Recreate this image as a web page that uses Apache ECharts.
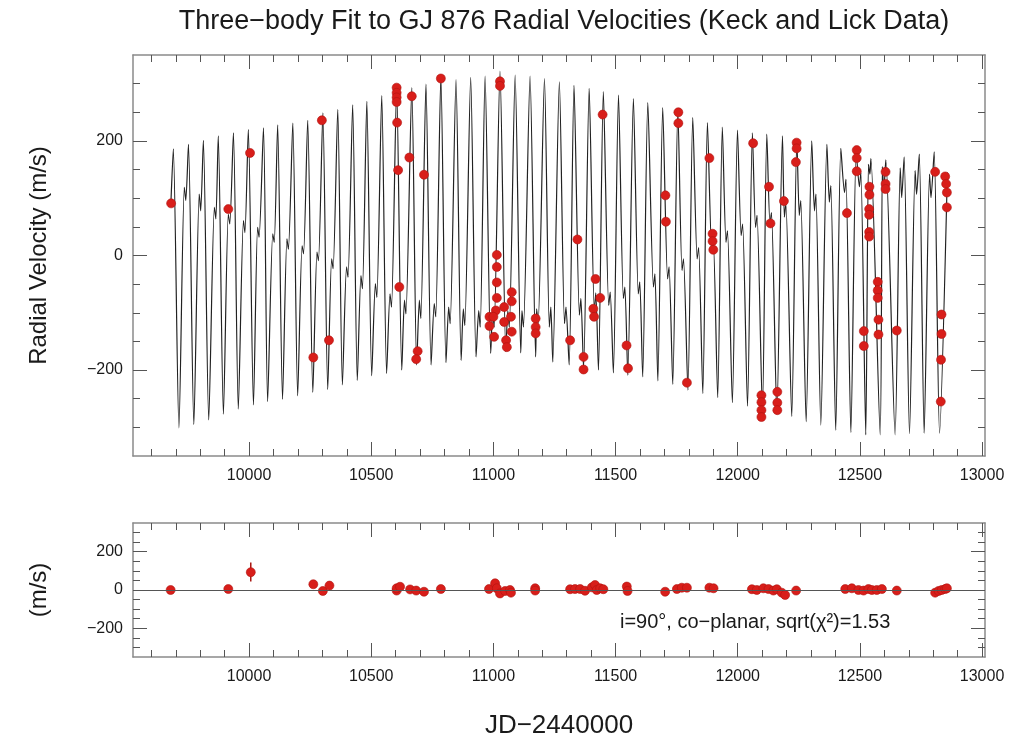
<!DOCTYPE html>
<html><head><meta charset="utf-8">
<script src="https://cdn.jsdelivr.net/npm/echarts@6/dist/echarts.min.js"></script>
<style>html,body{margin:0;padding:0;background:#fff}#c{width:1009px;height:742px}</style>
</head><body><div id="c"></div>
<script>
// ---- Model curve: peaks, troughs, small kinks ----
const curveStart = [9680, 90];
const curveEnd = [12858, 145];
const peaks = [
[9690,186],[9752,194],[9813,201],[9874,209],[9936,214],[9997,220],[10059,223],[10117,228],[10179,231],[10240,236],
[10302,249],[10363,255],[10424,263],[10482,269],[10543,279],[10604,293],[10666,293],[10724,299],[10785,313],[10847,307],
[10907,311],[10966,313],[11027,322],[11089,315],[11150,313],[11209,309],[11270,303],[11330,297],[11392,292],[11450,286],
[11512,280],[11573,274],[11632,267],[11693,258],[11755,253],[11816,241],[11876,232],[11937,224],[11999,219],[12060,214],
[12119,212],[12183,209],[12242,201],[12303,200],[12365,194],[12422,187],[12485,180],[12545,169],[12606,167],[12681,172],
[12743,177],[12804,181]];
const troughs = [
[9713,-301],[9774,-295],[9835,-287],[9895,-277],[9956,-268],[10018,-261],[10076,-255],[10137,-251],[10199,-245],[10261,-239],
[10322,-234],[10382,-226],[10443,-218],[10502,-210],[10563,-206],[10625,-200],[10686,-191],[10745,-191],[10806,-187],[10868,-183],
[10929,-177],[10989,-171],[11051,-168],[11112,-170],[11173,-177],[11243,-186],[11310,-191],[11369,-197],[11430,-200],[11491,-205],
[11550,-209],[11611,-212],[11673,-219],[11734,-225],[11796,-235],[11857,-241],[11918,-248],[11978,-257],[12040,-263],[12101,-270],
[12160,-277],[12221,-281],[12280,-290],[12340,-296],[12401,-305],[12463,-309],[12524,-313],[12583,-313],[12644,-313],[12703,-311],
[12763,-310],[12826,-310]];
// kinks on the rising branch: [time, local max, local min]
const kinksRising = [
[9738,119,96],[9799,107,78],[9861,84,64],[9918,72,55],[9980,61,40],[10038,49,32],[10100,38,23],[10158,29,11],[10220,17,3],
[10281,6,-9],[10341,-6,-23],[10402,-20,-38],[10461,-35,-58],[10520,-49,-73],[10580,-67,-90],[10639,-78,-102],[10700,-78,-110],
[10761,-84,-107],[10820,-90,-119],[10880,-93,-122],[10943,-96,-125],[11000,-96,-125],[11062,-96,-125],[11120,-96,-125],[11180,-93,-119],
[12538,159,142],[12595,155,115],[12668,153,101],[12729,148,107],[12788,142,101]];
// kinks on the falling branch: [time, local max, local min]
const kinksFalling = [
[11232,-90,-125],[11294,-90,-119],[11355,-75,-104],[11416,-65,-95],[11475,-64,-87],[11535,-55,-75],[11596,-46,-67],[11658,-32,-55],
[11716,-20,-41],[11775,-6,-26],[11837,14,-6],[11897,25,5],[11955,43,23],[12017,55,35],[12076,70,49],[12135,75,55],[12194,90,67],
[12255,96,70],[12317,107,78],[12378,122,93],[12440,133,110],[12501,145,120]];

// ---- Radial velocity measurements ----
const rvT = [9681,9915,10004,10298,10263,10327,10604,10604,10604,10604,10606,10610,10615,10666,10656,10716,10690,10684,10785,
11027,11027,11014,11014,11014,11014,11010,10984,11000,10984,11003,11044,11044,11075,11075,11072,11075,11052,11055,11173,11173,11173,
11344,11314,11369,11369,11418,11437,11409,11412,11447,11545,11551,11704,11706,11757,11757,11792,11884,11897,11897,11900,
12063,12128,12134,12189,12241,12241,12238,12097,12097,12097,12097,12162,12162,12162,12447,12487,12487,12487,12516,12516,
12539,12539,12538,12538,12538,12538,12573,12573,12573,12576,12576,12605,12605,12605,12651,12808,12849,12853,12856,12856,
12834,12834,12832,12831];
const rvV = [91,81,179,236,-178,-148,293,284,276,268,232,149,-55,278,171,141,-167,-181,309,
304,296,1,-20,-47,-74,-96,-107,-107,-123,-142,-90,-116,-64,-80,-107,-133,-148,-160,-110,-125,-136,
28,-148,-177,-199,-41,-74,-93,-107,246,-157,-197,105,59,250,231,-222,170,38,25,10,
196,120,56,95,197,187,163,-244,-256,-270,-282,-238,-257,-270,74,184,170,147,-132,-158,
120,106,81,71,41,33,-46,-61,-74,-112,-138,146,125,116,-131,146,138,125,110,84,
-103,-137,-182,-255];

// ---- Residuals ----
const resT = [9679,9915,10007,10263,10302,10329,10604,10604,10618,10659,10684,10716,10785,10982,11007,11014,11027,11048,11068,11072,
11171,11171,11314,11334,11355,11375,11403,11416,11423,11437,11450,11546,11549,11703,11751,11771,11792,11884,11901,
12058,12078,12105,12126,12146,12160,12180,12194,12239,12440,12467,12494,12515,12535,12549,12569,12590,12651,
12808,12822,12835,12849,12856];
const resV = [0,5,93,30,-5,23,-3,9,17,3,-3,-9,5,5,35,9,-18,-5,0,-14,
9,-3,4,5,5,-4,14,26,0,9,4,18,-5,-9,5,12,12,12,9,
4,0,9,5,-3,4,-14,-26,-3,5,9,0,-3,5,0,0,5,-3,
-14,-5,0,5,9];
const resErrT = [10007];
const resErrLo = [44];
const resErrHi = [144];

// ---- Axis tick values ----
const xMajor = [10000,10500,11000,11500,12000,12500,13000];
const yMajor = [-200,0,200];
const xMinor = []; for (let v = 9600; v <= 13000; v += 100) xMinor.push(v);
const yMinor = []; for (let v = -300; v <= 300; v += 50) yMinor.push(v);

// ---- Build model line ----
const modelPts = [curveStart, curveEnd].concat(peaks, troughs);
kinksRising.forEach(k => { modelPts.push([k[0]-3, k[1]]); modelPts.push([k[0]+3, k[2]]); });
kinksFalling.forEach(k => { modelPts.push([k[0]-3, k[2]]); modelPts.push([k[0]+3, k[1]]); });
modelPts.sort((a,b) => a[0]-b[0]);

const rvData = rvT.map((t,i) => [t, rvV[i]]);
const resData = resT.map((t,i) => [t, resV[i]]);
const errData = resErrT.map((t,i) => [t, resErrLo[i], resErrHi[i]]);

const FONT = '"Liberation Sans", Arial, Helvetica, sans-serif';
const FRAME = '#8a8a8a', TICK = '#555', TXT = '#1a1a1a';
const XMIN = 9525, XMAX = 13012, YMIN = -350, YMAX = 350;
const fmt = v => String(v).replace('-', '\u2212');

function xAxes(g, labels, name) {
  const base = {type:'value', gridIndex:g, min:XMIN, max:XMAX, splitLine:{show:false}};
  return [
    Object.assign({}, base, {position:'bottom',
      axisLine:{show:true, onZero:false, lineStyle:{color:FRAME, width:1.5}},
      axisTick:{show:true, inside:true, length:14, customValues:xMajor, lineStyle:{color:TICK, width:1}},
      axisLabel:{show:labels, customValues:xMajor, margin:12, fontSize:16, color:TXT, fontFamily:FONT, formatter:fmt},
      name: name || '', nameLocation:'middle', nameGap:56,
      nameTextStyle:{fontSize:26, color:TXT, fontFamily:FONT}}),
    Object.assign({}, base, {position:'bottom', axisLine:{show:false, onZero:false},
      axisTick:{show:true, inside:true, length:7, customValues:xMinor, lineStyle:{color:TICK, width:1}},
      axisLabel:{show:false}}),
    Object.assign({}, base, {position:'top',
      axisLine:{show:true, onZero:false, lineStyle:{color:FRAME, width:1.5}},
      axisTick:{show:true, inside:true, length:14, customValues:xMajor, lineStyle:{color:TICK, width:1}},
      axisLabel:{show:false}}),
    Object.assign({}, base, {position:'top', axisLine:{show:false, onZero:false},
      axisTick:{show:true, inside:true, length:7, customValues:xMinor, lineStyle:{color:TICK, width:1}},
      axisLabel:{show:false}})
  ];
}
function yAxes(g, name) {
  const base = {type:'value', gridIndex:g, min:YMIN, max:YMAX, splitLine:{show:false}};
  return [
    Object.assign({}, base, {position:'left',
      axisLine:{show:true, onZero:false, lineStyle:{color:FRAME, width:1.5}},
      axisTick:{show:true, inside:true, length:14, customValues:yMajor, lineStyle:{color:TICK, width:1}},
      axisLabel:{show:true, customValues:yMajor, margin:10, fontSize:16, color:TXT, fontFamily:FONT, formatter:fmt},
      name:name, nameLocation:'middle', nameRotate:90, nameGap:82,
      nameTextStyle:{fontSize:24, color:TXT, fontFamily:FONT}}),
    Object.assign({}, base, {position:'left', axisLine:{show:false, onZero:false},
      axisTick:{show:true, inside:true, length:7, customValues:yMinor, lineStyle:{color:TICK, width:1}},
      axisLabel:{show:false}}),
    Object.assign({}, base, {position:'right',
      axisLine:{show:true, onZero:false, lineStyle:{color:FRAME, width:1.5}},
      axisTick:{show:true, inside:true, length:14, customValues:yMajor, lineStyle:{color:TICK, width:1}},
      axisLabel:{show:false}}),
    Object.assign({}, base, {position:'right', axisLine:{show:false, onZero:false},
      axisTick:{show:true, inside:true, length:7, customValues:yMinor, lineStyle:{color:TICK, width:1}},
      axisLabel:{show:false}})
  ];
}

const chart = echarts.init(document.getElementById('c'), null, {renderer:'canvas'});
chart.setOption({
  animation:false,
  backgroundColor:'#ffffff',
  title:[
    {text:'Three\u2212body Fit to GJ 876 Radial Velocities (Keck and Lick Data)', left:559, top:3, textAlign:'center',
     textStyle:{fontSize:27, fontWeight:'normal', color:TXT, fontFamily:FONT}},
    {text:'i=90\u00b0, co\u2212planar, sqrt(\u03c7\u00b2)=1.53', left:615, top:607,
     textStyle:{fontSize:20, fontWeight:'normal', color:TXT, fontFamily:FONT}}
  ],
  grid:[
    {left:133, top:55, width:852, height:401},
    {left:133, top:523, width:852, height:134}
  ],
  xAxis: xAxes(0, true).concat(xAxes(1, true, 'JD\u22122440000')),
  yAxis: yAxes(0, 'Radial Velocity (m/s)').concat(yAxes(1, '(m/s)')),
  series:[
    {type:'line', xAxisIndex:0, yAxisIndex:0, data:modelPts, showSymbol:false, smooth:0.25,
     lineStyle:{color:'#222', width:1.2}, z:2},
    {type:'scatter', xAxisIndex:0, yAxisIndex:0, data:rvData, symbolSize:9,
     itemStyle:{color:'#d81e1a', borderColor:'#b01410', borderWidth:0.6, opacity:1}, z:3},
    {type:'custom', xAxisIndex:4, yAxisIndex:4, data:errData, z:2,
     renderItem:function(params, api){
       const a = api.coord([api.value(0), api.value(1)]);
       const b = api.coord([api.value(0), api.value(2)]);
       return {type:'line', shape:{x1:a[0], y1:a[1], x2:b[0], y2:b[1]}, style:{stroke:'#a8140f', lineWidth:1.5}};
     }},
    {type:'scatter', xAxisIndex:4, yAxisIndex:4, data:resData, symbolSize:9,
     itemStyle:{color:'#d81e1a', borderColor:'#b01410', borderWidth:0.6, opacity:1}, z:3,
     markLine:{silent:true, symbol:['none','none'], label:{show:false},
       lineStyle:{color:'#555', width:1, type:'solid'}, data:[{yAxis:0}]}}
  ]
});
</script></body></html>
